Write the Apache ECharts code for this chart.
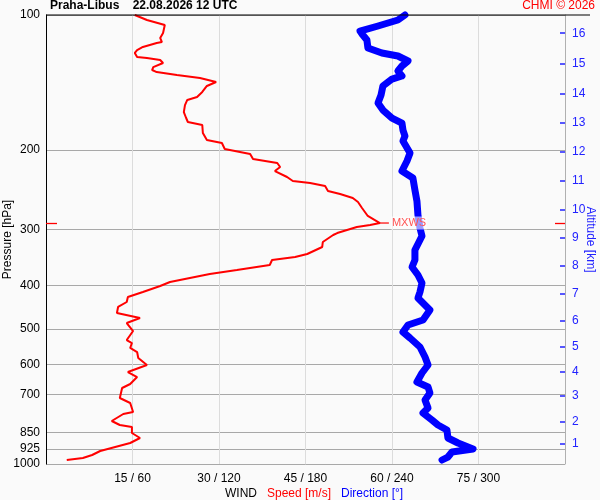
<!DOCTYPE html>
<html><head><meta charset="utf-8">
<script src="https://cdn.jsdelivr.net/npm/echarts@6/dist/echarts.min.js"></script>
<style>html,body{margin:0;padding:0;background:#fafafa}#c{width:600px;height:500px}</style>
</head><body><div id="c"></div>
<script>
// ---- data ----
const pressureTicks = [100, 200, 300, 400, 500, 600, 700, 850, 925, 1000];
const speedTicks = [15, 30, 45, 60, 75];
const altitudeKm = [1, 2, 3, 4, 5, 6, 7, 8, 9, 10, 11, 12, 13, 14, 15, 16];
const altitudePressure = [901.1, 805.0, 705.6, 623.9, 548.8, 480.3, 418.2, 362.3, 313.3, 271.8, 234.3, 201.9, 173.6, 149.4, 128.1, 109.8];

const speedPressure = [100, 102.6, 105.3, 109.7, 112.5, 114.9, 115.4, 117.8, 119.7, 121.5, 124.0, 124.7, 126.0, 127.9, 130.6, 132.6, 134.0, 136.0, 138.1, 141.0, 143.9, 148.4, 152.3, 154.6, 158.7, 164.5, 169.6, 173.1, 175.8, 183.1, 189.8, 192.8, 198.8, 204.0, 209.3, 213.6, 218.0, 222.6, 229.5, 234.3, 236.7, 240.4, 246.6, 250.4, 255.6, 260.9, 269.1, 280.3, 290.6, 293.6, 296.6, 305.9, 309.0, 320.3, 328.6, 340.6, 345.9, 351.3, 360.4, 369.8, 377.4, 393.2, 401.4, 413.9, 424.7, 435.7, 447.0, 461.0, 473.0, 485.3, 505.6, 529.5, 537.7, 551.6, 563.1, 580.7, 601.9, 623.9, 640.1, 663.5, 677.2, 712.9, 731.4, 765.9, 773.8, 802.1, 818.7, 827.2, 853.0, 875.2, 897.9, 916.5, 935.5, 954.9, 969.7, 979.7];
const speedValues = [15.4, 17.5, 20.6, 20.3, 19.8, 20.1, 19.2, 16.8, 15.8, 15.4, 15.8, 17.5, 19.8, 20.3, 18.6, 18.4, 19.2, 22.7, 26.7, 29.5, 27.9, 27.1, 26.2, 24.5, 24.1, 23.9, 24.3, 24.6, 27.1, 27.2, 27.9, 30.5, 31.0, 35.4, 35.9, 40.1, 40.6, 39.7, 41.8, 42.8, 45.8, 48.4, 48.9, 51.0, 53.2, 54.1, 54.8, 55.8, 57.9, 56.2, 53.9, 50.5, 49.8, 48.0, 47.9, 45.3, 43.2, 39.2, 38.8, 33.1, 28.4, 21.5, 19.8, 16.8, 14.2, 14.0, 12.5, 12.3, 16.3, 14.0, 15.1, 14.0, 14.9, 14.6, 15.8, 16.0, 17.5, 14.2, 15.8, 14.6, 13.2, 12.8, 14.6, 15.1, 13.4, 11.4, 12.8, 14.9, 14.9, 16.3, 14.6, 12.0, 9.4, 8.0, 6.4, 3.6];

const dirPressure = [100, 102.6, 105.8, 108.6, 110.2, 113.7, 118.4, 121.5, 123.4, 126.6, 129.9, 133.3, 136.7, 138.9, 143.9, 150.7, 157.0, 162.8, 169.6, 174.0, 180.4, 186.0, 190.8, 202.9, 211.4, 222.6, 230.7, 245.3, 259.6, 278.9, 298.1, 310.6, 317.1, 333.7, 351.3, 364.1, 379.4, 395.3, 413.9, 426.9, 454.0, 477.9, 490.3, 508.2, 524.1, 548.8, 577.7, 601.9, 627.1, 656.7, 673.8, 694.8, 720.2, 750.4, 769.9, 798.0, 818.7, 840.0, 875.2, 897.9, 925.9, 940.4, 964.8, 979.7];
const dirValues = [249.0, 244.1, 230.3, 217.8, 219.2, 222.6, 223.3, 233.0, 244.1, 251.1, 246.9, 244.1, 246.9, 240.0, 233.7, 232.4, 230.3, 233.7, 240.0, 246.9, 247.6, 249.0, 247.6, 252.5, 250.4, 246.9, 254.5, 255.9, 257.3, 258.0, 259.4, 260.8, 259.4, 255.9, 255.9, 253.9, 258.0, 260.8, 259.4, 258.0, 266.3, 261.5, 251.1, 247.6, 252.5, 259.4, 262.9, 265.0, 260.8, 257.3, 265.0, 266.3, 262.9, 265.0, 261.5, 267.7, 271.9, 278.1, 278.8, 285.8, 296.2, 281.6, 278.8, 274.7];

const maxWindSpeed = 57.9;
const maxWindPressure = 290.6;

// ---- chart ----
const FONT = 'Liberation Sans, Arial, sans-serif';
const chart = echarts.init(document.getElementById('c'));
const speedData = speedValues.map((v, i) => [v, speedPressure[i]]);
const dirData = dirValues.map((v, i) => [v, dirPressure[i]]);

chart.setOption({
  animation: false,
  backgroundColor: '#fafafa',
  textStyle: { fontFamily: FONT },
  title: [
    { text: 'Praha-Libus    22.08.2026 12 UTC', left: 50, top: 0, padding: 0,
      textStyle: { fontFamily: FONT, fontSize: 12, fontWeight: 'bold', color: '#000' } },
    { text: 'CHMI © 2026', right: 5, top: 0, padding: 0,
      textStyle: { fontFamily: FONT, fontSize: 12, fontWeight: 'normal', color: '#ff0000' } },
    { text: '{w|WIND}  {s|Speed [m/s]}  {d|Direction [°]}', left: 225, top: 485, padding: 0,
      textStyle: { fontWeight: 'normal', rich: {
        w: { fontFamily: FONT, fontSize: 12, fontWeight: 'normal', color: '#000' },
        s: { fontFamily: FONT, fontSize: 12, fontWeight: 'normal', color: '#ff0000' },
        d: { fontFamily: FONT, fontSize: 12, fontWeight: 'normal', color: '#0000ff' } } } }
  ],
  grid: { left: 46, right: 35, top: 15, bottom: 36, containLabel: false, outerBoundsMode: 'none' },
  xAxis: [
    { type: 'value', min: 0, max: 90, interval: 15, position: 'bottom',
      axisLine: { show: false, onZero: false }, axisTick: { show: false },
      axisLabel: { margin: 9, fontFamily: FONT, fontSize: 12, color: '#000',
        formatter: v => speedTicks.indexOf(v) >= 0 ? v + ' / ' + v * 4 : '' },
      splitLine: { show: true, lineStyle: { color: '#dcdcdc', width: 1 } } },
    { type: 'value', min: 0, max: 360, show: false, position: 'top', axisLine: { onZero: false } }
  ],
  yAxis: [
    { type: 'log', logBase: 10, min: 100, max: 1000, inverse: true, position: 'left',
      name: 'Pressure [hPa]', nameLocation: 'middle', nameGap: 32, nameRotate: 90, nameMoveOverlap: false,
      nameTextStyle: { fontFamily: FONT, fontSize: 12, color: '#000' },
      axisLine: { show: true, onZero: false, lineStyle: { color: '#000', width: 1 } },
      axisTick: { show: false, customValues: pressureTicks },
      axisLabel: { customValues: pressureTicks, margin: 6, fontFamily: FONT, fontSize: 12, color: '#000',
        formatter: v => String(Math.round(v)) },
      splitLine: { show: true, lineStyle: { color: '#a8a8a8', width: 1 } } },
    { type: 'log', logBase: 10, min: 100, max: 1000, inverse: true, position: 'right',
      name: 'Altitude [km]', nameLocation: 'middle', nameGap: 19, nameRotate: -90, nameMoveOverlap: false,
      nameTextStyle: { fontFamily: FONT, fontSize: 12, color: '#2222ff' },
      axisLine: { show: true, onZero: false, lineStyle: { color: '#b0b0b0', width: 1 } },
      axisTick: { show: true, inside: true, length: 5, customValues: altitudePressure, lineStyle: { color: '#2222ff', width: 1.5 } },
      axisLabel: { customValues: altitudePressure, margin: 7, fontFamily: FONT, fontSize: 12, color: '#2222ff',
        formatter: v => { const i = altitudePressure.indexOf(v); return i >= 0 ? String(altitudeKm[i]) : ''; } },
      splitLine: { show: false } },
    { type: 'log', logBase: 10, min: 100, max: 1000, inverse: true, position: 'left',
      axisLine: { show: false, onZero: false, lineStyle: { color: '#ff0000' } }, axisLabel: { show: false }, splitLine: { show: false },
      axisTick: { show: true, inside: true, length: 11, customValues: [maxWindPressure], lineStyle: { color: '#ff0000', width: 1.3 } } },
    { type: 'log', logBase: 10, min: 100, max: 1000, inverse: true, position: 'right',
      axisLine: { show: false, onZero: false, lineStyle: { color: '#ff0000' } }, axisLabel: { show: false }, splitLine: { show: false },
      axisTick: { show: true, inside: true, length: 10, customValues: [maxWindPressure], lineStyle: { color: '#ff0000', width: 1.3 } } }
  ],
  graphic: [
    { type: 'line', z: 100, shape: { x1: 46, y1: 15, x2: 590, y2: 15 }, style: { stroke: '#000', lineWidth: 1 } }
  ],
  series: [
    { type: 'line', name: 'Direction', xAxisIndex: 1, yAxisIndex: 0, data: dirData,
      showSymbol: false, symbol: 'none', clip: false,
      lineStyle: { color: '#0000ff', width: 7, cap: 'round', join: 'round' }, z: 3 },
    { type: 'line', name: 'Speed', xAxisIndex: 0, yAxisIndex: 0, data: speedData,
      showSymbol: false, symbol: 'none',
      lineStyle: { color: '#ff0000', width: 2 }, z: 4,
      markPoint: {
        symbol: 'rect', symbolSize: [9, 1.2], symbolOffset: [4.5, 0],
        itemStyle: { color: '#ff0000' },
        label: { show: true, position: 'right', distance: 2, formatter: 'MXWS',
          fontFamily: FONT, fontSize: 11, color: '#ff5555', backgroundColor: 'rgba(255,255,255,0.6)', padding: [1, 1] },
        data: [{ coord: [maxWindSpeed, maxWindPressure] }]
      } }
  ]
});
</script>
</body></html>
